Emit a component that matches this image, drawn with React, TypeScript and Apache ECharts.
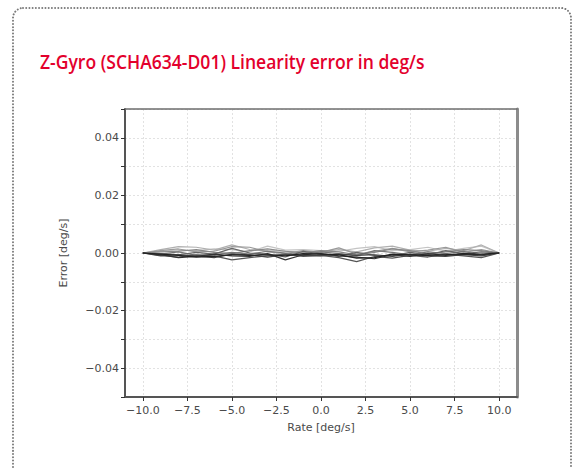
import React, { useEffect, useRef } from "react";
import * as echarts from "echarts";

const TITLE = "Z-Gyro (SCHA634-D01) Linearity error in deg/s";
const X_NAME = "Rate [deg/s]";
const Y_NAME = "Error [deg/s]";

const rates = [-10, -9, -8, -7, -6, -5, -4, -3, -2, -1, 0, 1, 2, 3, 4, 5, 6, 7, 8, 9, 10];
const xTicks = [-10, -7.5, -5, -2.5, 0, 2.5, 5, 7.5, 10];

const run1 = [0, 0.0012, 0.0022, 0.002, 0.001, 0.0028, 0.0012, 0.0008, 0.0006, 0.0002, 0.0005, 0.0012, 0.0004, 0.0018, 0.0024, 0.001, 0.0006, 0.0016, 0.0008, 0.0028, 0];
const run2 = [0, 0.0008, 0.0014, 0.0004, 0.0006, 0.0022, 0.002, 0.0004, -0.0002, 0.0008, 0.0002, 0.0018, -0.0004, 0.0006, 0.0016, 0.0004, 0.001, 0.002, 0.0002, 0.0012, 0];
const run3 = [0, -0.0004, 0.0004, -0.0008, -0.0006, 0.0002, -0.0004, 0.0006, 0.0, -0.0006, 0.0004, -0.0002, -0.001, 0.0008, 0.0002, -0.0006, 0.0004, -0.0002, 0.0006, -0.0008, 0];
const run4 = [0, -0.0008, -0.0014, -0.0006, -0.001, -0.0024, -0.0016, -0.001, -0.0004, -0.0012, -0.0008, -0.0016, -0.003, -0.0012, -0.0018, -0.0008, -0.0014, -0.0004, -0.001, -0.0016, 0];
const run5 = [0, -0.0006, -0.0016, -0.0012, -0.0004, -0.001, -0.0012, -0.0002, -0.0024, -0.0006, -0.0002, -0.001, -0.0014, -0.002, -0.0006, -0.0012, -0.0002, -0.0008, -0.0004, -0.0006, 0];
const run6 = [0, -0.0004, -0.0008, -0.0014, -0.0012, -0.0006, -0.0008, -0.0006, -0.001, -0.0002, -0.0004, -0.0006, -0.0018, -0.0016, -0.0004, -0.0006, -0.0008, -0.0006, -0.0002, -0.0004, 0];
const run7 = [0, 0.0004, 0.0006, 0.0012, 0.0002, -0.0002, 0.0008, 0.0014, 0.0006, 0.0, 0.0008, 0.0004, -0.0006, 0.0002, 0.0014, 0.0008, -0.0004, 0.0004, 0.0012, 0.0008, 0];
const run8 = [0, -0.0002, -0.0006, 0.0002, -0.0004, 0.0016, 0.0, -0.0004, -0.0014, 0.0006, -0.0004, -0.0012, 0.0002, -0.0008, -0.001, 0.0002, -0.0006, 0.0008, -0.0002, 0.0004, 0];
const run9 = [0, 0.0006, 0.001, 0.0008, 0.0014, 0.0012, 0.0004, 0.0024, 0.001, 0.0012, 0.0008, 0.0006, 0.0016, 0.0022, 0.0008, 0.0012, 0.002, 0.0006, 0.0016, 0.0024, 0];
const run10 = [0, -0.0010, -0.0006, -0.0010, -0.0016, -0.0004, -0.0006, -0.0014, -0.0006, -0.0008, -0.0010, -0.0004, -0.0008, -0.0006, -0.0012, -0.0004, -0.0010, -0.0012, -0.0006, -0.0010, 0];

const runs = [run9, run1, run2, run7, run3, run8, run4, run10, run5, run6];
const runColors = ["#c4c4c4", "#b0b0b0", "#999999", "#888888", "#777777", "#666666", "#555555", "#444444", "#333333", "#222222"];

const fmtX = (v: number) => {
  const s = Math.abs(v).toFixed(1);
  return v < 0 ? "\u2212" + s : s;
};
const fmtY = (v: number) => {
  const k = Math.round(v * 100);
  if (k % 2 !== 0) return "";
  const s = Math.abs(k / 100).toFixed(2);
  return k < 0 ? "\u2212" + s : s;
};

export default function App() {
  const ref = useRef<HTMLDivElement>(null);
  useEffect(() => {
    if (!ref.current) return;
    const chart = echarts.init(ref.current, null, { renderer: "svg" });
    const axisFont = { fontFamily: "DejaVu Sans", fontSize: 11, color: "#4a4a4a" };
    const titleFont = "600 20px 'Open Sans'";
    let titleScale = 1;
    const cv = document.createElement("canvas").getContext("2d");
    if (cv) {
      cv.font = titleFont;
      const w = cv.measureText(TITLE).width;
      if (w > 0) titleScale = 385 / w;
    }
    chart.setOption({
      animation: false,
      backgroundColor: "#ffffff",
      graphic: [
        {
          type: "rect",
          shape: { x: 13, y: 8, width: 558, height: 500, r: 10 },
          style: { fill: "none", stroke: "#7a7a7a", lineWidth: 2, lineDash: [0.01, 3.2], lineCap: "round" },
          silent: true,
        },
        {
          type: "text",
          x: 40,
          y: 62,
          scaleX: titleScale,
          style: {
            text: TITLE,
            font: titleFont,
            fill: "#e3002c",
            verticalAlign: "middle",
            align: "left",
          },
          silent: true,
        },
      ],
      grid: { left: 125, right: 60, top: 109, bottom: 71, containLabel: false },
      xAxis: [
        {
          type: "value",
          min: -11,
          max: 11,
          name: X_NAME,
          nameLocation: "middle",
          nameGap: 25,
          nameTextStyle: axisFont,
          axisLine: { show: true, onZero: false, lineStyle: { color: "#555555", width: 2 } },
          axisTick: { show: true, length: 4, customValues: xTicks, lineStyle: { color: "#333333", width: 1 } },
          axisLabel: { show: true, customValues: xTicks, margin: 8, formatter: fmtX, ...axisFont },
          splitLine: { show: true, lineStyle: { color: "#e2e2e2", width: 1, type: [2, 2] } },
        },
        {
          type: "value",
          position: "top",
          min: -11,
          max: 11,
          axisLine: { show: true, onZero: false, lineStyle: { color: "#6e6e6e", width: 1.5 } },
          axisTick: { show: false },
          axisLabel: { show: false },
          splitLine: { show: false },
        },
      ],
      yAxis: [
        {
          type: "value",
          min: -0.05,
          max: 0.05,
          interval: 0.01,
          name: Y_NAME,
          nameLocation: "middle",
          nameGap: 56,
          nameTextStyle: axisFont,
          axisLine: { show: true, onZero: false, lineStyle: { color: "#555555", width: 2 } },
          axisTick: { show: true, length: 4, lineStyle: { color: "#333333", width: 1 } },
          axisLabel: { show: true, margin: 6, formatter: fmtY, ...axisFont },
          splitLine: { show: true, lineStyle: { color: "#e2e2e2", width: 1, type: [2, 2] } },
        },
        {
          type: "value",
          position: "right",
          min: -0.05,
          max: 0.05,
          axisLine: { show: true, onZero: false, lineStyle: { color: "#8c8c8c", width: 3 } },
          axisTick: { show: false },
          axisLabel: { show: false },
          splitLine: { show: false },
        },
      ],
      series: runs.map((r, i) => ({
        type: "line",
        xAxisIndex: 0,
        yAxisIndex: 0,
        data: rates.map((x, j) => [x, r[j]]),
        showSymbol: false,
        symbol: "none",
        lineStyle: { color: runColors[i], width: 1.2 },
        z: 2 + i,
      })),
    });
    return () => chart.dispose();
  }, []);
  return (
    <div
      ref={ref}
      style={{ position: "absolute", left: 0, top: 0, width: 577, height: 468 }}
    />
  );
}
